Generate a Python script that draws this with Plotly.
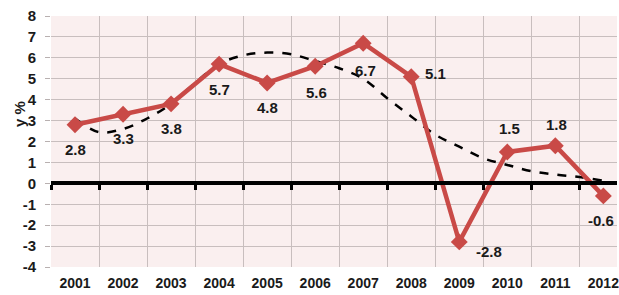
import plotly.graph_objects as go

years = ["2001", "2002", "2003", "2004", "2005", "2006", "2007", "2008", "2009", "2010", "2011", "2012"]
growth = [2.8, 3.3, 3.8, 5.7, 4.8, 5.6, 6.7, 5.1, -2.8, 1.5, 1.8, -0.6]
labels = ["2.8", "3.3", "3.8", "5.7", "4.8", "5.6", "6.7", "5.1", "-2.8", "1.5", "1.8", "-0.6"]

# trend line at half-year steps
trend_x = [0, 0.5, 1, 1.5, 2, 2.5, 3, 3.5, 4, 4.5, 5, 5.5, 6, 6.5, 7, 7.5, 8, 8.5, 9, 9.5, 10, 10.5, 11]
trend_y = [3.1, 2.45, 2.6, 3.1, 3.8, 4.8, 5.7, 6.12, 6.25, 6.17, 5.85, 5.5, 5.0, 4.07, 3.2, 2.33, 1.75, 1.2, 0.88, 0.58, 0.42, 0.3, 0.12]

yticks = list(range(-4, 9))
ytick_text = ["-4", "-3", "-2", "-1", "0", "1", "2", "3", "4", "5", "6", "7", "8"]

idx = list(range(len(years)))
boundaries = [i - 0.5 for i in range(len(years) + 1)]

# label offsets (pixels): (xshift, yshift)
offsets = [(0, -25), (0, -24), (0, -25), (0, -25), (0, -25), (1, -26), (2, -27),
           (24, 3), (30, -10), (2, 23), (1, 21), (-2, -25)]

RED = "#C94A47"
FONT = "Liberation Sans, Arial, sans-serif"
TXT = "#1a1a1a"

fig = go.Figure()

fig.add_trace(go.Scatter(
    x=trend_x, y=trend_y, mode="lines",
    line=dict(color="black", width=2.5, dash="dash", shape="spline"),
    hoverinfo="skip", showlegend=False,
))

fig.add_trace(go.Scatter(
    x=idx, y=growth, mode="lines+markers",
    line=dict(color=RED, width=4.5),
    marker=dict(symbol="diamond", size=13, color=RED),
    showlegend=False,
))

for i, v in enumerate(growth):
    dx, dy = offsets[i]
    fig.add_annotation(
        x=i, y=v, text=labels[i], showarrow=False,
        xshift=dx, yshift=dy,
        font=dict(family=FONT, size=15, color=TXT, weight="bold"),
    )

fig.add_annotation(
    xref="paper", yref="paper", x=-0.0546, y=0.61, text="у %",
    textangle=-90, showarrow=False, xanchor="center", yanchor="middle",
    font=dict(family=FONT, size=15, color=TXT, weight="bold"),
)

fig.update_layout(
    width=619, height=295,
    margin=dict(l=51, r=0, t=16, b=28),
    paper_bgcolor="white",
    plot_bgcolor="#FAEFEF",
    xaxis=dict(
        range=[-0.5, 11.284],
        tickvals=idx, ticktext=years,
        showgrid=False, zeroline=False, showline=False,
        ticks="", ticklabelstandoff=6, ticklabeloverflow="allow",
        tickfont=dict(family=FONT, size=14, color=TXT, weight="bold"),
    ),
    xaxis2=dict(
        overlaying="x", anchor="free", position=1/3,
        range=[-0.5, 11.284],
        tickvals=boundaries, showticklabels=False,
        showgrid=True, gridcolor="#C8BEBE", gridwidth=1,
        showline=True, linecolor="black", linewidth=4,
        ticks="outside", ticklen=5, tickwidth=3, tickcolor="black",
        zeroline=False,
    ),
    yaxis=dict(
        range=[-4, 8], tickvals=yticks, ticktext=ytick_text,
        showgrid=True, gridcolor="#C8BEBE", gridwidth=1,
        zeroline=False, showline=False,
        ticks="outside", ticklen=5, tickcolor="#B8B0B0",
        ticklabelstandoff=6,
        tickfont=dict(family=FONT, size=15, color=TXT, weight="bold"),
    ),
)

# invisible trace to activate xaxis2
fig.add_trace(go.Scatter(x=[None], y=[None], xaxis="x2", showlegend=False, hoverinfo="skip"))

fig.write_html("out.html", config={"displayModeBar": False},
               post_script="document.body.style.margin='0';")
